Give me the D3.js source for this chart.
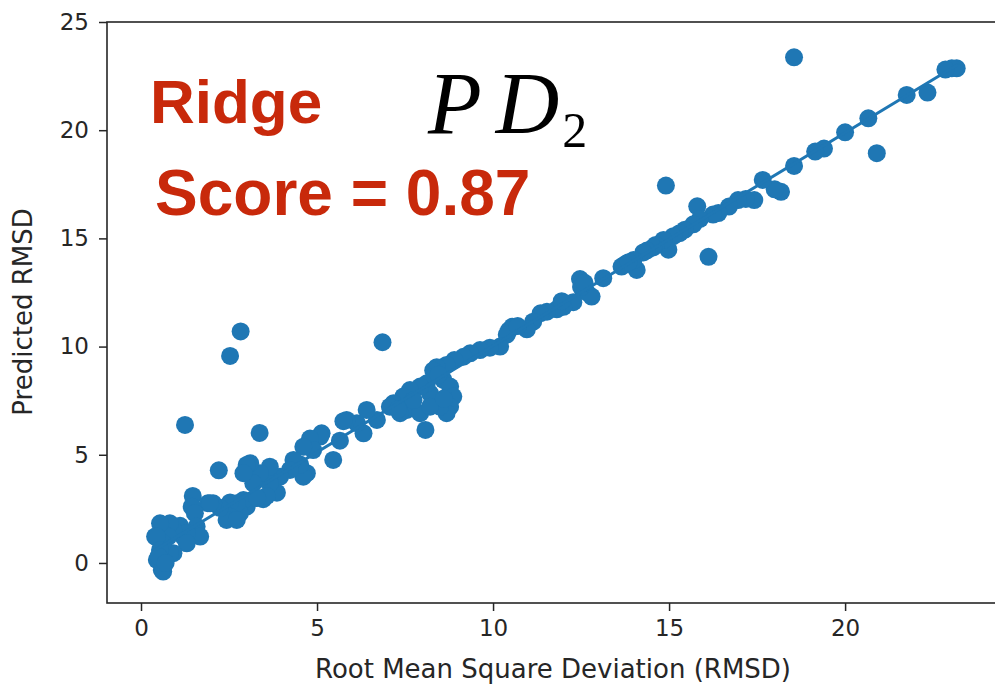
<!DOCTYPE html>
<html>
<head>
<meta charset="utf-8">
<script src="https://cdn.jsdelivr.net/npm/d3@7"></script>
<style>
  html, body { margin: 0; padding: 0; background: #ffffff; }
  svg { display: block; }
</style>
</head>
<body>
<div id="chart"></div>
<script>
// Measured RMSD (x) against the Ridge model's predicted RMSD (y)
const rmsd = [
  18.55, 2.83, 2.53, 6.86, 1.25, 3.37, 2.21, 8.08, 14.91, 16.12, 20.90, 1.47,
  23.17, 23.03, 22.85, 22.34, 21.75, 20.66, 20.00, 19.40, 19.15, 18.55, 18.18, 18.00,
  17.66, 17.42, 17.18, 16.96, 16.70, 16.40, 16.25, 15.80, 15.88, 15.69, 15.45, 15.30,
  15.12, 14.98, 14.84, 14.62, 14.55, 14.37, 14.27, 14.08, 13.99, 13.75, 13.65, 13.13,
  12.47, 12.66, 12.80, 12.50, 12.28, 12.00, 11.81, 11.53, 11.35, 11.14, 10.96, 10.55,
  10.45, 10.39, 10.20, 9.91, 9.63, 9.35, 9.16, 8.90, 8.68, 8.40, 8.30, 8.59,
  8.78, 8.87, 8.78, 8.68, 8.49, 8.21, 8.12, 7.93, 7.64, 7.45, 7.55, 7.93,
  8.21, 7.74, 7.36, 7.17, 7.07, 6.70, 6.41, 6.32, 6.13, 5.84, 5.75, 5.65,
  5.46, 5.13, 5.09, 4.80, 4.89, 4.61, 4.71, 4.61, 4.52, 4.33, 4.23, 3.95,
  3.86, 3.66, 3.66, 3.47, 3.57, 3.38, 3.19, 3.10, 3.00, 2.91, 3.00, 2.91,
  2.81, 2.72, 2.53, 2.53, 2.43, 2.72, 2.24, 2.05, 1.90, 1.96, 1.44, 1.53,
  1.58, 1.68, 1.11, 1.20, 1.30, 1.30, 0.92, 0.82, 0.78, 0.92, 0.82, 0.63,
  0.54, 0.40, 0.45, 0.54, 0.45, 0.59, 0.63, 0.63, 0.50, 0.70,
  8.45, 8.60, 12.60, 11.95, 13.85, 3.30, 7.30, 10.70
];
const predicted = [
  23.37, 10.70, 9.57, 10.20, 6.38, 6.01, 4.28, 6.15, 17.44, 14.15, 18.94, 3.10,
  22.86, 22.86, 22.80, 21.74, 21.63, 20.55, 19.90, 19.15, 19.01, 18.35, 17.15, 17.27,
  17.70, 16.77, 16.82, 16.77, 16.47, 16.17, 16.10, 16.48, 15.90, 15.65, 15.40, 15.24,
  15.10, 14.48, 14.93, 14.70, 14.58, 14.44, 14.35, 13.54, 14.00, 13.80, 13.70, 13.16,
  13.12, 12.52, 12.31, 12.75, 12.05, 11.84, 11.72, 11.61, 11.54, 11.15, 10.80, 10.92,
  10.75, 10.55, 10.00, 9.95, 9.84, 9.69, 9.53, 9.38, 9.15, 9.05, 8.90, 8.46,
  8.15, 7.69, 7.22, 6.92, 7.22, 7.84, 8.30, 8.15, 7.99, 7.69, 7.07, 6.92,
  7.22, 7.53, 6.92, 7.38, 7.22, 6.61, 7.07, 5.99, 6.46, 6.61, 6.55, 5.65,
  4.76, 5.99, 5.84, 5.75, 5.22, 5.37, 4.15, 3.99, 4.55, 4.76, 4.30, 3.99,
  3.25, 3.68, 4.45, 2.95, 3.10, 4.15, 3.68, 4.61, 4.53, 4.15, 2.60, 2.91,
  2.30, 2.76, 2.80, 2.14, 1.99, 1.99, 2.55, 2.76, 2.76, 2.76, 2.60, 2.30,
  1.68, 1.22, 1.72, 1.22, 1.37, 0.91, 1.53, 1.83, 1.22, 0.45, 0.45, 0.91,
  1.83, 1.22, 1.22, 0.60, 0.14, -0.32, -0.17, -0.40, 0.30, 0.00,
  8.70, 7.60, 12.95, 12.10, 13.90, 3.00, 7.10, 10.95
];
// End points of the fitted regression line
const fitX = [0.40, 23.17];
const fitY = [0.60, 23.00];

const xTicks = [0, 5, 10, 15, 20];
const yTicks = [0, 5, 10, 15, 20, 25];

const modelName = "Ridge";
const scoreLabel = "Score = 0.87";
const xLabel = "Root Mean Square Deviation (RMSD)";
const yLabel = "Predicted RMSD";

const W = 995, H = 685;
const box = { left: 107, right: 1000, top: 22, bottom: 603 };
const blue = "#1f77b4";
const red = "#c8290b";
const ink = "#262626";

const svg = d3.select("#chart").append("svg")
  .attr("width", W).attr("height", H);

const x = d3.scaleLinear().domain([-0.966, 24.40]).range([box.left, box.right]);
const y = d3.scaleLinear().domain([-1.85, 25]).range([box.bottom, box.top]);

const points = rmsd.map((v, i) => ({ x: v, y: predicted[i] }));

// scatter markers
svg.append("g")
  .selectAll("circle")
  .data(points)
  .join("circle")
  .attr("cx", d => x(d.x))
  .attr("cy", d => y(d.y))
  .attr("r", 9)
  .attr("fill", blue);

// regression line
svg.append("line")
  .attr("x1", x(fitX[0])).attr("y1", y(fitY[0]))
  .attr("x2", x(fitX[1])).attr("y2", y(fitY[1]))
  .attr("stroke", blue).attr("stroke-width", 3)
  .attr("stroke-linecap", "round");

// axes
const xAxis = svg.append("g")
  .attr("transform", `translate(0,${box.bottom})`)
  .call(d3.axisBottom(x).tickValues(xTicks).tickSize(8).tickPadding(9).tickFormat(d3.format("d")));
const yAxis = svg.append("g")
  .attr("transform", `translate(${box.left},0)`)
  .call(d3.axisLeft(y).tickValues(yTicks).tickSize(8).tickPadding(10).tickFormat(d3.format("d")));

[xAxis, yAxis].forEach(g => {
  g.select(".domain").remove();
  g.selectAll(".tick line").attr("stroke", ink).attr("stroke-width", 1.5);
  g.selectAll(".tick text")
    .attr("fill", ink)
    .style("font-family", "DejaVu Sans, sans-serif")
    .style("font-size", "23px");
});

// frame
svg.append("rect")
  .attr("x", box.left).attr("y", box.top)
  .attr("width", box.right - box.left).attr("height", box.bottom - box.top)
  .attr("fill", "none").attr("stroke", ink).attr("stroke-width", 1.6);

// axis titles
svg.append("text")
  .attr("x", 553).attr("y", 678)
  .attr("text-anchor", "middle")
  .attr("fill", ink)
  .style("font-family", "DejaVu Sans, sans-serif")
  .style("font-size", "26px")
  .text(xLabel);

svg.append("text")
  .attr("transform", "translate(32,312) rotate(-90)")
  .attr("text-anchor", "middle")
  .attr("fill", ink)
  .style("font-family", "DejaVu Sans, sans-serif")
  .style("font-size", "26px")
  .text(yLabel);

// model name and score
svg.append("text")
  .attr("x", 150).attr("y", 123)
  .attr("fill", red)
  .style("font-family", "Liberation Sans, Arial, sans-serif")
  .style("font-weight", "bold")
  .style("font-size", "62px")
  .text(modelName);

svg.append("text")
  .attr("x", 155).attr("y", 215)
  .attr("fill", red)
  .style("font-family", "Liberation Sans, Arial, sans-serif")
  .style("font-weight", "bold")
  .style("font-size", "64px")
  .text(scoreLabel);

// dataset symbol PD_2
const sym = svg.append("text")
  .attr("x", 428).attr("y", 133)
  .attr("fill", "#000")
  .style("font-family", "Liberation Serif, serif")
  .style("font-size", "88px");
sym.append("tspan").style("font-style", "italic").text("P");
sym.append("tspan").style("font-style", "italic").attr("dx", 14).text("D");
sym.append("tspan").attr("dy", 14).attr("dx", 3).style("font-size", "50px").text("2");
</script>
</body>
</html>
